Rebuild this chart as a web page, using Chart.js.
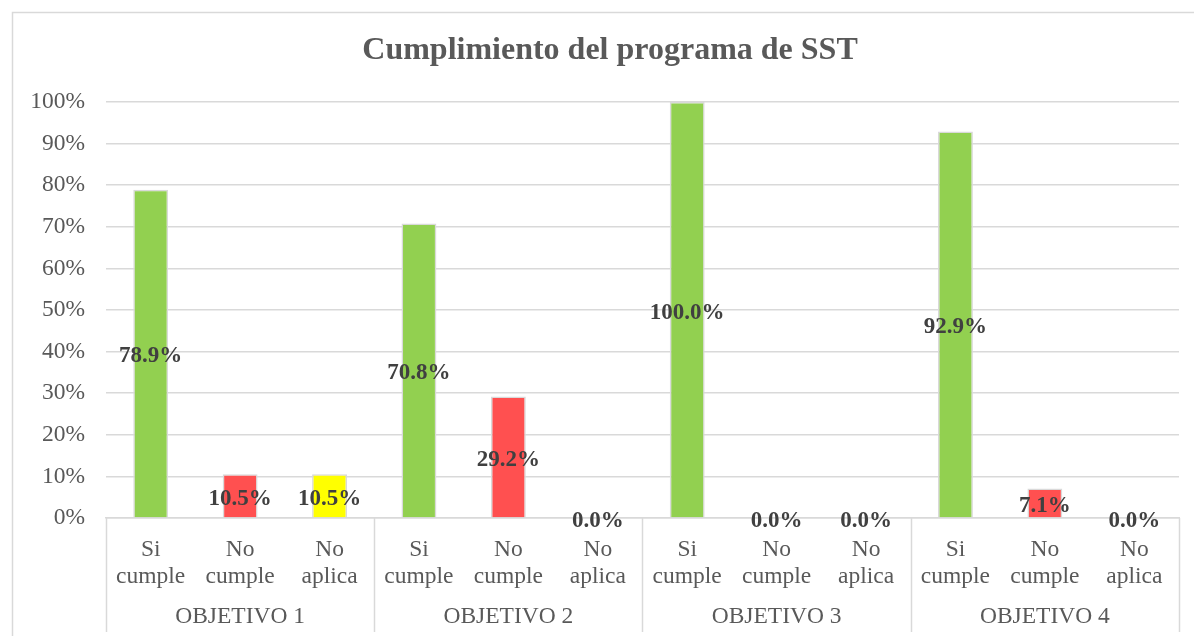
<!DOCTYPE html>
<html>
<head>
<meta charset="utf-8">
<script src="https://cdn.jsdelivr.net/npm/chart.js@4.4.1/dist/chart.umd.min.js"></script>
<style>
  html, body { margin: 0; padding: 0; background: #fff; }
  #wrap { position: relative; width: 1194px; height: 636px; }
</style>
</head>
<body>
<div id="wrap"><canvas id="c" width="1194" height="636"></canvas></div>
<script>
// data
const titulo = "Cumplimiento del programa de SST";
const grupos = ["OBJETIVO 1", "OBJETIVO 2", "OBJETIVO 3", "OBJETIVO 4"];
const subcategorias = [["Si", "cumple"], ["No", "cumple"], ["No", "aplica"]];
const valores = [78.9, 10.5, 10.5, 70.8, 29.2, 0.0, 100.0, 0.0, 0.0, 92.9, 7.1, 0.0];
const coloresSub = ["#92D050", "#FF5050", "#FFFF00"];

const etiquetas = [];
const colores = [];
grupos.forEach(() => {
  subcategorias.forEach((s, i) => {
    etiquetas.push(s);
    colores.push(coloresSub[i]);
  });
});

const FONT = "'Liberation Serif', 'Times New Roman', serif";
const GRIS = "#D9D9D9";

// frame, title, group separators, group labels and value labels
const extras = {
  id: "extras",
  beforeDraw(chart) {
    const c = chart.ctx;
    c.save();
    c.strokeStyle = GRIS;
    c.lineWidth = 1.5;
    c.beginPath();
    c.moveTo(12.5, 700);
    c.lineTo(12.5, 12.5);
    c.lineTo(1194, 12.5);
    c.stroke();

    c.fillStyle = "#595959";
    c.font = "bold 32px " + FONT;
    c.textAlign = "center";
    c.textBaseline = "middle";
    c.fillText(titulo, 610, 51);
    c.restore();
  },
  afterDraw(chart) {
    const c = chart.ctx;
    const x = chart.scales.x;
    const area = chart.chartArea;
    const half = (x.getPixelForValue(1) - x.getPixelForValue(0)) / 2;
    c.save();
    c.strokeStyle = GRIS;
    c.lineWidth = 1.5;
    for (let g = 0; g <= grupos.length; g++) {
      const px = g < grupos.length
        ? x.getPixelForValue(g * 3) - half
        : x.getPixelForValue(g * 3 - 1) + half;
      c.beginPath();
      c.moveTo(Math.round(px) + 0.5, area.bottom);
      c.lineTo(Math.round(px) + 0.5, 632);
      c.stroke();
    }
    c.fillStyle = "#595959";
    c.font = "23.5px " + FONT;
    c.textAlign = "center";
    c.textBaseline = "middle";
    grupos.forEach((g, i) => {
      const px = x.getPixelForValue(i * 3 + 1);
      c.fillText(g, px, 617);
    });

    const meta = chart.getDatasetMeta(0);
    c.fillStyle = "#404040";
    c.font = "bold 23px " + FONT;
    meta.data.forEach((bar, i) => {
      const y = (bar.y + bar.base) / 2 + 3;
      c.fillText(valores[i].toFixed(1) + "%", bar.x, y);
    });
    c.restore();
  }
};

new Chart(document.getElementById("c"), {
  type: "bar",
  data: {
    labels: etiquetas,
    datasets: [
      {
        data: valores,
        backgroundColor: colores,
        borderColor: GRIS,
        borderWidth: 1.5,
        barPercentage: 0.39,
        categoryPercentage: 1.0,
      },
    ],
  },
  options: {
    responsive: false,
    animation: false,
    layout: { padding: { left: 0, right: 15, top: 102, bottom: 0 } },
    plugins: {
      legend: { display: false },
      tooltip: { enabled: false },
      title: { display: false },
    },
    scales: {
      x: {
        grid: { display: false, drawTicks: false },
        border: { display: true, color: GRIS, width: 1.5 },
        ticks: {
          autoSkip: false,
          maxRotation: 0,
          color: "#595959",
          padding: 18,
          font: { family: FONT, size: 23.5, lineHeight: 1.15 },
        },
        afterFit(scale) { scale.height = 118; },
      },
      y: {
        min: 0,
        max: 100,
        ticks: {
          stepSize: 10,
          color: "#595959",
          padding: 21,
          font: { family: FONT, size: 23.5 },
          callback: (v) => v + "%",
        },
        grid: { color: GRIS, lineWidth: 1.5, drawTicks: false },
        border: { display: false },
        afterFit(scale) { scale.width = 106; },
      },
    },
  },
  plugins: [extras],
});
</script>
</body>
</html>
